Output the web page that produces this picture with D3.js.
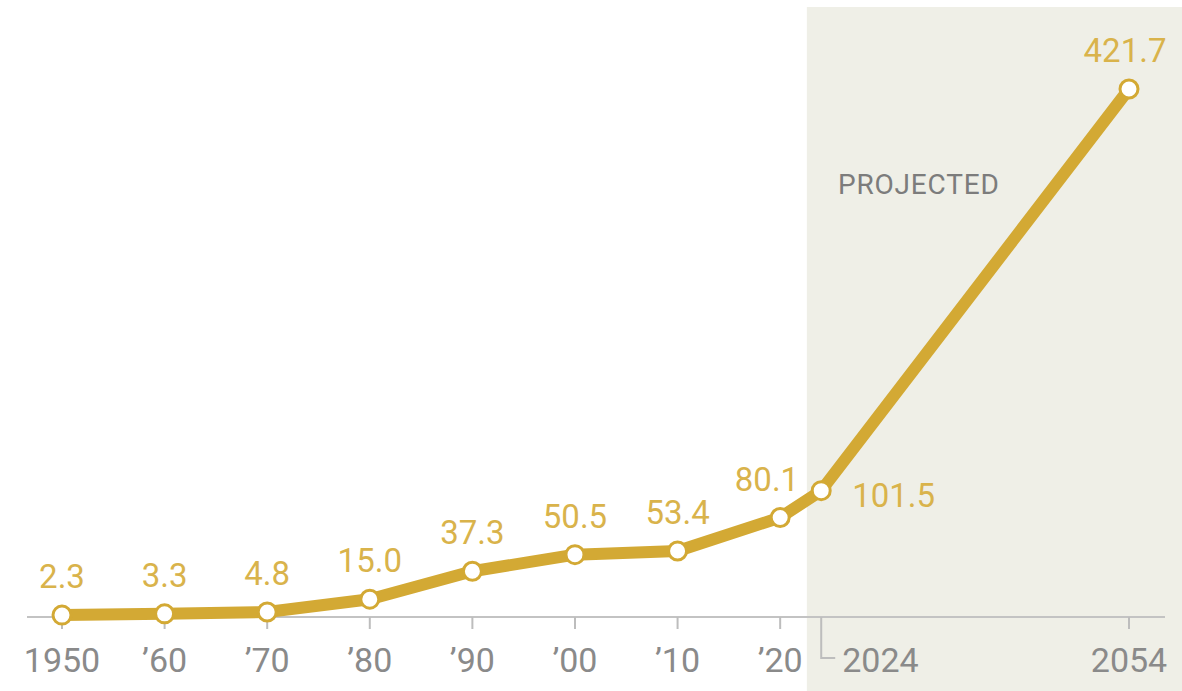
<!DOCTYPE html>
<html>
<head>
<meta charset="utf-8">
<script src="https://cdn.jsdelivr.net/npm/d3@7"></script>
<style>
body{margin:0;background:#fff;}
svg{display:block;font-family:Roboto,"Liberation Sans",sans-serif;}
</style>
</head>
<body>
<svg id="chart"></svg>
<script>
let width = 1182;
let height = 691;

// data
let years = [1950, 1960, 1970, 1980, 1990, 2000, 2010, 2020, 2024, 2054];
let values = [2.3, 3.3, 4.8, 15.0, 37.3, 50.5, 53.4, 80.1, 101.5, 421.7];
let tickYears = [1950, 1960, 1970, 1980, 1990, 2000, 2010, 2020, 2054];
let tickLabels = ["1950", "\u201960", "\u201970", "\u201980", "\u201990", "\u201900", "\u201910", "\u201920", "2054"];
let projectedFrom = 2022.6;

let gold = "#d3a934";
let labelGold = "#d9b34b";
let gray = "#8a8a8a";

let svg = d3.select("#chart").attr("width", width).attr("height", height);

let x = d3.scaleLinear().domain([1950, 2054]).range([62, 1129]);
let y = d3.scaleLinear().domain([0, 421.7]).range([618, 89]);
let base = 617;

// projected shading
svg.append("rect")
  .attr("x", x(projectedFrom)).attr("y", 7)
  .attr("width", width - x(projectedFrom)).attr("height", height - 7)
  .style("fill", "#efefe7");

svg.append("text")
  .attr("x", 838).attr("y", 194)
  .text("PROJECTED")
  .style("fill", "#7c7c7c").style("font-size", "28px").style("letter-spacing", "0.8px");

// axis
let axis = svg.append("g");
axis.append("line")
  .attr("x1", 27).attr("x2", 1165).attr("y1", base).attr("y2", base)
  .style("stroke", "#c3c3c3").style("stroke-width", 2);

tickYears.forEach((yr, i) => {
  axis.append("line")
    .attr("x1", x(yr)).attr("x2", x(yr)).attr("y1", base).attr("y2", base + 12)
    .style("stroke", "#bdbdbd").style("stroke-width", 2);
  axis.append("text")
    .attr("x", x(yr)).attr("y", 672)
    .attr("text-anchor", "middle")
    .text(tickLabels[i])
    .style("fill", gray).style("font-size", "34px");
});

// 2024 bracket tick
axis.append("path")
  .attr("d", `M${x(2024)},${base}V${base + 41}H${x(2024) + 14}`)
  .style("fill", "none").style("stroke", "#bdbdbd").style("stroke-width", 2);
axis.append("text")
  .attr("x", x(2024) + 21).attr("y", 672)
  .text("2024")
  .style("fill", gray).style("font-size", "34px");

// line
let pts = years.map((yr, i) => [yr, values[i]]);
let line = d3.line().x(d => x(d[0])).y(d => y(d[1]));

svg.append("path")
  .datum(pts)
  .attr("d", line)
  .style("fill", "none").style("stroke", gold)
  .style("stroke-width", 12).style("stroke-linejoin", "round");

svg.selectAll(".dot")
  .data(pts).enter()
  .append("circle")
  .attr("class", "dot")
  .attr("cx", d => x(d[0])).attr("cy", d => y(d[1]))
  .attr("r", 9)
  .style("fill", "#fff").style("stroke", gold).style("stroke-width", 3);

// value labels
svg.selectAll(".val")
  .data(pts).enter()
  .append("text")
  .attr("class", "val")
  .attr("x", d => {
    if (d[0] == 2020) return x(d[0]) + 19;
    if (d[0] == 2024) return x(d[0]) + 31;
    if (d[0] == 2054) return x(d[0]) - 4;
    return x(d[0]);
  })
  .attr("y", d => {
    if (d[0] == 2024) return y(d[1]) + 16;
    return Math.min(y(d[1]) - 27, 588);
  })
  .attr("text-anchor", d => d[0] == 2020 ? "end" : (d[0] == 2024 ? "start" : "middle"))
  .text(d => d[1].toFixed(1))
  .style("fill", labelGold).style("font-size", "33px");
</script>
</body>
</html>
